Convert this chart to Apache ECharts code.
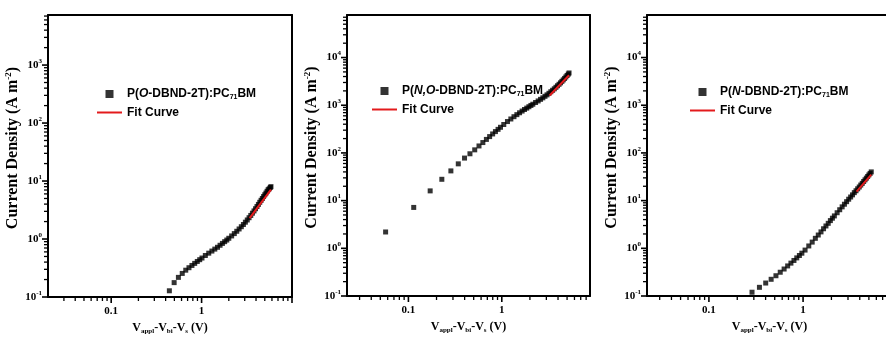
<!DOCTYPE html>
<html><head><meta charset="utf-8">
<script src="https://cdn.jsdelivr.net/npm/echarts@6/dist/echarts.min.js"></script>
<style>html,body{margin:0;padding:0;background:#fff;overflow:hidden}#c{width:900px;height:341px}</style>
</head><body><div id="c"></div>
<script>
// ---- Panel 1: P(O-DBND-2T):PC71BM ----
const xO = [0.44, 0.497, 0.554, 0.611, 0.668, 0.725, 0.782, 0.839, 0.896, 0.953, 1.01, 1.1, 1.2, 1.3, 1.4, 1.5, 1.6, 1.7, 1.8, 1.9, 2.0, 2.15, 2.3, 2.45, 2.6, 2.75, 2.9, 3.05, 3.2, 3.35, 3.5, 3.65, 3.8, 3.95, 4.1, 4.25, 4.4, 4.55, 4.7, 4.85, 5.0, 5.15, 5.3, 5.45, 5.6, 5.75, 5.85];
const yO = [0.128, 0.177, 0.218, 0.255, 0.29, 0.32, 0.35, 0.38, 0.41, 0.44, 0.47, 0.52, 0.57, 0.62, 0.67, 0.72, 0.78, 0.84, 0.9, 0.96, 1.03, 1.13, 1.24, 1.36, 1.49, 1.63, 1.78, 1.95, 2.13, 2.33, 2.55, 2.79, 3.05, 3.33, 3.63, 3.95, 4.3, 4.65, 5.0, 5.4, 5.8, 6.2, 6.65, 7.1, 7.35, 7.75, 8.0];
const fitOx = [3.4, 5.85];
const fitOy = [2.3, 7.1];

// ---- Panel 2: P(N,O-DBND-2T):PC71BM ----
const xNO = [0.057, 0.114, 0.171, 0.228, 0.285, 0.342, 0.399, 0.456, 0.513, 0.57, 0.627, 0.684, 0.741, 0.798, 0.855, 0.912, 0.969, 1.05, 1.15, 1.25, 1.35, 1.45, 1.55, 1.65, 1.75, 1.85, 1.95, 2.05, 2.15, 2.3, 2.45, 2.6, 2.75, 2.9, 3.05, 3.2, 3.35, 3.5, 3.65, 3.8, 3.95, 4.1, 4.25, 4.4, 4.55, 4.7, 4.85, 5.0, 5.15, 5.25];
const yNO = [2.2, 7.2, 16, 28, 42, 59, 78, 96, 116, 140, 165, 192, 220, 250, 280, 312, 345, 395, 455, 515, 575, 635, 695, 755, 815, 870, 930, 990, 1050, 1140, 1230, 1330, 1430, 1540, 1650, 1780, 1920, 2060, 2210, 2380, 2560, 2750, 2950, 3170, 3400, 3650, 3920, 4200, 4500, 4750];
const fitNOx = [3.25, 5.25];
const fitNOy = [1600, 4250];

// ---- Panel 3: P(N-DBND-2T):PC71BM ----
const xN = [0.287, 0.344, 0.401, 0.458, 0.515, 0.572, 0.629, 0.686, 0.743, 0.8, 0.857, 0.914, 0.971, 1.05, 1.15, 1.25, 1.35, 1.45, 1.55, 1.65, 1.75, 1.85, 1.95, 2.05, 2.15, 2.3, 2.45, 2.6, 2.75, 2.9, 3.05, 3.2, 3.35, 3.5, 3.65, 3.8, 3.95, 4.1, 4.25, 4.4, 4.55, 4.7, 4.85, 5.0, 5.15, 5.3];
const yN = [0.12, 0.152, 0.187, 0.224, 0.266, 0.315, 0.368, 0.427, 0.489, 0.556, 0.63, 0.706, 0.79, 0.918, 1.12, 1.35, 1.62, 1.9, 2.21, 2.57, 2.94, 3.34, 3.81, 4.28, 4.78, 5.57, 6.44, 7.4, 8.4, 9.5, 10.7, 11.9, 13.2, 14.7, 16.1, 17.7, 19.3, 21.2, 23.0, 25.2, 27.3, 29.6, 32.0, 34.6, 37.2, 40];
const fitNx = [3.7, 5.3];
const fitNy = [15.5, 35];

// ---- tick labels ----
const xTickLabels = [0.1, 1];
const yTickLabelsO = [0.1, 1, 10, 100, 1000];
const yTickLabelsN = [0.1, 1, 10, 100, 1000, 10000];

const seriesNames = ['P(O-DBND-2T):PC71BM', 'P(N,O-DBND-2T):PC71BM', 'P(N-DBND-2T):PC71BM'];
const seriesRich = [
  '{n|P(}{i|O}{n|-DBND-2T):PC}{s|71}{n|BM}',
  '{n|P(}{i|N,O}{n|-DBND-2T):PC}{s|71}{n|BM}',
  '{n|P(}{i|N}{n|-DBND-2T):PC}{s|71}{n|BM}'
];
const fitName = 'Fit Curve';

const SERIF = '"Liberation Serif", "Times New Roman", serif';
const SANS = '"Liberation Sans", Arial, sans-serif';

function decadeTicks(min, max) {
  const out = [];
  for (let d = -3; d <= 6; d++) {
    const v = parseFloat(Math.pow(10, d).toPrecision(6));
    if (v >= min && v <= max) out.push(v);
  }
  return out;
}
function minorTicks(min, max) {
  const out = [];
  for (let d = -3; d <= 6; d++) {
    for (let k = 2; k <= 9; k++) {
      const v = parseFloat((k * Math.pow(10, d)).toPrecision(6));
      if (v > min && v < max) out.push(v);
    }
  }
  return out;
}

const panels = [
  { xs: xO, ys: yO, fx: fitOx, fy: fitOy, grid: { left: 48, top: 15, width: 244, height: 282 }, xmin: 0.02, xmax: 10, ymax: 7300, yLabels: yTickLabelsO, legendLeft: 96, legendTop: 88 },
  { xs: xNO, ys: yNO, fx: fitNOx, fy: fitNOy, grid: { left: 347, top: 15, width: 243, height: 281 }, xmin: 0.022, xmax: 8.8, ymax: 78000, yLabels: yTickLabelsN, legendLeft: 371, legendTop: 85 },
  { xs: xN, ys: yN, fx: fitNx, fy: fitNy, grid: { left: 647, top: 15, width: 245, height: 281 }, xmin: 0.022, xmax: 8.8, ymax: 78000, yLabels: yTickLabelsN, legendLeft: 689, legendTop: 86 }
];
const YMIN = 0.1;
const MAJOR_LEN = 6, MINOR_LEN = 4;
const FRAME = { show: true, onZero: false, lineStyle: { color: '#000', width: 2 } };

const grid = [], xAxis = [], yAxis = [], series = [], legend = [];
panels.forEach((p, i) => {
  grid.push(Object.assign({ show: false }, p.grid));
  // bottom axis: labels + frame line
  xAxis.push({
    type: 'log', gridIndex: i, position: 'bottom', min: p.xmin, max: p.xmax, logBase: 10,
    axisLine: FRAME, axisTick: { show: false },
    axisLabel: { show: true, margin: 9, customValues: xTickLabels, formatter: v => String(v),
      color: '#000', fontFamily: SERIF, fontWeight: 'bold', fontSize: 11 },
    splitLine: { show: false }, minorTick: { show: false },
    name: '{b|V}{s|appl}{b|-V}{s|bi}{b|-V}{s|s}{b| (V)}', nameLocation: 'middle', nameGap: 22,
    nameTextStyle: { rich: {
      b: { fontFamily: SERIF, fontWeight: 'bold', fontSize: 12, color: '#000' },
      s: { fontFamily: SERIF, fontWeight: 'bold', fontSize: 7, color: '#000', padding: [7, 0, 0, 0] }
    } }
  });
  // top frame line
  xAxis.push({
    type: 'log', gridIndex: i, position: 'top', min: p.xmin, max: p.xmax, logBase: 10,
    axisLine: FRAME, axisTick: { show: false }, axisLabel: { show: false }, splitLine: { show: false }
  });
  // left axis: labels + frame line
  yAxis.push({
    type: 'log', gridIndex: i, position: 'left', min: YMIN, max: p.ymax, logBase: 10,
    axisLine: FRAME, axisTick: { show: false },
    axisLabel: { show: true, margin: 6, customValues: p.yLabels,
      formatter: v => '{b|10}{e|' + Math.round(Math.log10(v)) + '}',
      rich: {
        b: { fontFamily: SERIF, fontWeight: 'bold', fontSize: 11, color: '#000' },
        e: { fontFamily: SERIF, fontWeight: 'bold', fontSize: 7, color: '#000', padding: [0, 0, 8, 0] }
      } },
    splitLine: { show: false }, minorTick: { show: false },
    name: '{b|Current Density (A m}{e|-2}{b|)}', nameLocation: 'middle', nameGap: 18,
    nameTextStyle: { padding: [0, 0, 0, 16], rich: {
      b: { fontFamily: SERIF, fontWeight: 'bold', fontSize: 16, color: '#000' },
      e: { fontFamily: SERIF, fontWeight: 'bold', fontSize: 9, color: '#000', padding: [0, 0, 9, 0] }
    } }
  });
  // right frame line
  yAxis.push({
    type: 'log', gridIndex: i, position: 'right', min: YMIN, max: p.ymax, logBase: 10,
    axisLine: FRAME, axisTick: { show: false }, axisLabel: { show: false }, splitLine: { show: false }
  });

  // outward tick marks, placed through the axes' own scales
  const tickData = [];
  decadeTicks(p.xmin, p.xmax).forEach(v => tickData.push([v, YMIN, MAJOR_LEN, 0]));
  minorTicks(p.xmin, p.xmax).forEach(v => tickData.push([v, YMIN, MINOR_LEN, 0]));
  decadeTicks(YMIN, p.ymax).forEach(v => tickData.push([p.xmin, v, MAJOR_LEN, 1]));
  minorTicks(YMIN, p.ymax).forEach(v => tickData.push([p.xmin, v, MINOR_LEN, 1]));
  series.push({
    type: 'custom', xAxisIndex: 2 * i, yAxisIndex: 2 * i, clip: false, silent: true, z: 10,
    encode: { x: 0, y: 1 },
    data: tickData,
    renderItem: (params, api) => {
      const pt = api.coord([api.value(0), api.value(1)]);
      const len = api.value(2);
      const shape = api.value(3) === 0
        ? { x1: pt[0], y1: pt[1], x2: pt[0], y2: pt[1] + len }
        : { x1: pt[0] - len, y1: pt[1], x2: pt[0], y2: pt[1] };
      return { type: 'line', shape, style: { stroke: '#000', lineWidth: len === MAJOR_LEN ? 1.6 : 1.3 } };
    }
  });

  series.push({
    type: 'scatter', name: seriesNames[i], xAxisIndex: 2 * i, yAxisIndex: 2 * i,
    data: p.xs.map((x, j) => [x, p.ys[j]]),
    symbol: 'rect', symbolSize: 5, symbolKeepAspect: true,
    itemStyle: { color: '#000' }, z: 2, silent: true
  });
  series.push({
    type: 'line', name: fitName, xAxisIndex: 2 * i, yAxisIndex: 2 * i,
    data: p.fx.map((x, j) => [x, p.fy[j]]),
    symbol: 'none', showSymbol: false,
    lineStyle: { color: '#e31a1c', width: 2 }, itemStyle: { color: '#e31a1c' }, z: 3, silent: true
  });

  legend.push({
    orient: 'vertical', left: p.legendLeft, top: p.legendTop, padding: 0,
    itemWidth: 25, itemHeight: 8, itemGap: 6, selectedMode: false,
    data: [
      { name: seriesNames[i], icon: 'path://M0,0L10,0L10,10L0,10Z' },
      { name: fitName, itemStyle: { opacity: 0 } }
    ],
    formatter: name => name === fitName ? '{n|Fit Curve}' : seriesRich[i],
    textStyle: { color: '#000', rich: {
      n: { fontFamily: SANS, fontWeight: 'bold', fontSize: 12, color: '#000' },
      i: { fontFamily: SANS, fontWeight: 'bold', fontStyle: 'italic', fontSize: 12, color: '#000' },
      s: { fontFamily: SANS, fontWeight: 'bold', fontSize: 7, color: '#000', padding: [6, 0, 0, 0] }
    } }
  });
});

const chart = echarts.init(document.getElementById('c'), null, { renderer: 'canvas' });
chart.setOption({ animation: false, backgroundColor: '#fff', grid, xAxis, yAxis, series, legend });
</script>
</body></html>
